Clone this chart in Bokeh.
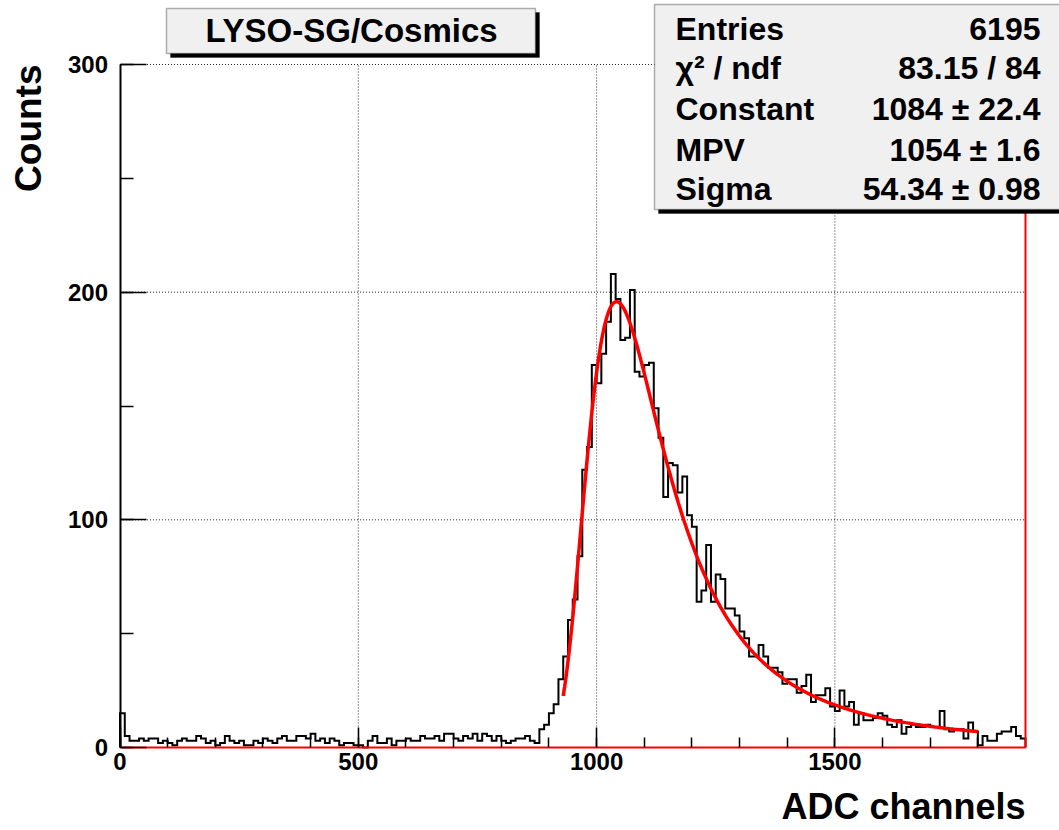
import numpy as np
from bokeh.plotting import figure
from bokeh.models import Range1d, FixedTicker, Label, BoxAnnotation, LinearAxis
from bokeh.embed import file_html
from bokeh.resources import INLINE

# ---------------- data ----------------
bin_width = 10
x_min, x_max = 0, 1900
y_min, y_max = 0, 300

noise_counts = [
    15, 5, 3, 3, 4, 3, 4, 4, 2, 3,
    2, 1, 3, 4, 3, 3, 5, 4, 2, 3,
    1, 2, 5, 3, 2, 3, 1, 1, 3, 2,
    4, 3, 2, 4, 5, 3, 3, 5, 5, 4,
    6, 3, 4, 2, 4, 3, 1, 2, 2, 1,
    1, 0, 3, 5, 2, 2, 4, 1, 3, 3,
    4, 3, 3, 5, 4, 4, 5, 3, 6, 6,
    4, 3, 5, 4, 6, 3, 6, 5, 3, 5,
    3, 2, 3, 4, 4, 5, 3, 2,
]
peak_counts = [
    8, 10, 15, 19, 30, 40, 56, 65, 84, 122,
    132, 168, 160, 173, 187, 208, 197, 179, 180, 201,
    165, 163, 168, 169, 149, 136, 110, 125, 124, 112,
    119,
]
tail_counts = [
    102, 97, 64, 69, 89, 64, 76, 74, 61, 61,
    58, 51, 48, 40, 40, 45, 40, 35, 35, 33,
    28, 30, 30, 24, 27, 32, 20, 23, 23, 26,
    18, 16, 25, 18, 20, 10, 15, 12, 12, 13,
    15, 14, 10, 9, 12, 6, 9, 10, 9, 9,
    10, 9, 9, 16, 8, 7, 8, 8, 4, 11,
    7, 1, 5, 3, 3, 6, 7, 7, 9, 5,
    4,
]
counts = noise_counts + peak_counts + tail_counts

# Landau fit (ROOT parametrisation) and its range
fit_constant = 1084.0
fit_mpv = 1054.0
fit_sigma = 54.34
fit_min, fit_max = 930.0, 1800.0

title_text = "LYSO-SG/Cosmics"
x_title = "ADC channels"
y_title = "Counts"
stat_names = ["Entries", "\u03c7\u00b2 / ndf", "Constant", "MPV", "Sigma"]
stat_values = ["6195", "83.15 / 84", "1084 \u00b1 22.4", "1054 \u00b1 1.6", "54.34 \u00b1 0.98"]

x_major = [0, 500, 1000, 1500]
x_minor = list(range(0, 1900, 100))
y_major = [0, 100, 200, 300]
y_minor = [0, 50, 100, 150, 200, 250, 300]
x_grid = [500, 1000, 1500]
y_grid = [100, 200, 300]

# ---------------- layout (pixels) ----------------
W, H = 1059, 830
frame_l, frame_r, frame_t, frame_b = 119.5, 1025.0, 64.0, 747.0
sx = (frame_r - frame_l) / (x_max - x_min)
sy = (frame_b - frame_t) / (y_max - y_min)
xr0 = x_min - frame_l / sx
xr1 = xr0 + W / sx
yr0 = y_min - (H - frame_b) / sy
yr1 = yr0 + H / sy

# ---------------- derived ----------------
edges = x_min + np.arange(len(counts) + 1) * bin_width
x_step = np.repeat(edges, 2)
y_step = np.concatenate([[0], np.repeat(np.array(counts, dtype=float), 2), [0]])


def landau_pdf(lam):
    t = np.linspace(1e-12, 60.0, 240001)
    f = np.exp(-t * np.log(t) - lam * t) * np.sin(np.pi * t)
    return np.trapezoid(f, t) / np.pi


x_fit = np.linspace(fit_min, fit_max, 300)
y_fit = np.array([fit_constant * landau_pdf((xx - fit_mpv) / fit_sigma) for xx in x_fit])

FONT = "Liberation Sans"

p = figure(width=W, height=H, output_backend="svg", toolbar_location=None,
           x_range=Range1d(xr0, xr1), y_range=Range1d(yr0, yr1),
           x_axis_type=None, y_axis_type=None,
           min_border=0, min_border_left=0, min_border_right=0, min_border_top=0, min_border_bottom=0,
           background_fill_color="white", border_fill_color="white")
p.outline_line_color = None

# grid (dotted, at major ticks)
p.segment(x0=x_grid, y0=[y_min] * len(x_grid), x1=x_grid, y1=[y_max] * len(x_grid),
          line_color="black", line_dash="1 2", line_width=1, line_alpha=0.85)
p.segment(x0=[x_min] * len(y_grid), y0=y_grid, x1=[x_max] * len(y_grid), y1=y_grid,
          line_color="black", line_dash="1 2", line_width=1, line_alpha=0.85)

# histogram and fit
p.line(x_step, y_step, line_color="black", line_width=2, line_join="miter")
p.line(x_fit, y_fit, line_color="#ff0000", line_width=3.5)


def style_axis(ax, tick_in, minor_in):
    ax.major_tick_out = 0
    ax.minor_tick_out = 0
    ax.major_tick_in = tick_in
    ax.minor_tick_in = minor_in
    ax.major_tick_line_color = "black"
    ax.minor_tick_line_color = "black"
    ax.major_tick_line_width = 1.5
    ax.minor_tick_line_width = 1.5
    ax.major_label_text_font = FONT
    ax.major_label_text_font_style = "bold"
    ax.major_label_text_font_size = "24px"
    ax.major_label_text_color = "black"


xaxis = LinearAxis(fixed_location=y_min, bounds=(x_min, x_max),
                   ticker=FixedTicker(ticks=x_major, minor_ticks=x_minor))
style_axis(xaxis, 20, 10)
xaxis.axis_line_color = "#ff0000"
xaxis.axis_line_width = 2
xaxis.major_label_standoff = 5
p.add_layout(xaxis, "below")

yaxis = LinearAxis(fixed_location=x_min, bounds=(y_min, y_max),
                   ticker=FixedTicker(ticks=y_major, minor_ticks=y_minor))
style_axis(yaxis, 26, 13)
yaxis.axis_line_color = "black"
yaxis.axis_line_width = 2
yaxis.major_label_standoff = 12
p.add_layout(yaxis, "left")

raxis = LinearAxis(fixed_location=x_max, bounds=(y_min, y_max), ticker=FixedTicker(ticks=[]),
                   major_label_text_font_size="0px", major_tick_line_color=None, minor_tick_line_color=None)
raxis.axis_line_color = "#ff0000"
raxis.axis_line_width = 2
p.add_layout(raxis, "right")


# boxes in canvas pixels (top/bottom measured from the top edge)
def box(l, r, t, b, **kw):
    return BoxAnnotation(left=l, right=r, top=H - t, bottom=H - b,
                         left_units="screen", right_units="screen", top_units="screen", bottom_units="screen", **kw)


# title box with shadow
p.add_layout(box(170, 539, 12, 57, fill_color="black", fill_alpha=1, line_color="black"))
p.add_layout(box(166, 535, 8, 53, fill_color="#f0f0f0", fill_alpha=1, line_color="black", line_width=1.5))
p.add_layout(Label(x=351, y=H - 30, x_units="screen", y_units="screen", text=title_text,
                   text_font=FONT, text_font_style="bold", text_font_size="33px",
                   text_align="center", text_baseline="middle", text_color="black"))

# stats box with shadow
p.add_layout(box(658, 1070, 9, 213, fill_color="black", fill_alpha=1, line_color="black"))
p.add_layout(box(654, 1066, 4, 209, fill_color="#f0f0f0", fill_alpha=1, line_color="black", line_width=1.5))
row_py = [28, 67, 108, 149, 188]
for name, val, py in zip(stat_names, stat_values, row_py):
    p.add_layout(Label(x=675, y=H - py, x_units="screen", y_units="screen", text=name,
                       text_font=FONT, text_font_style="bold", text_font_size="32px",
                       text_align="left", text_baseline="middle", text_color="black"))
    p.add_layout(Label(x=1040, y=H - py, x_units="screen", y_units="screen", text=val,
                       text_font=FONT, text_font_style="bold", text_font_size="32px",
                       text_align="right", text_baseline="middle", text_color="black"))

# axis titles (ROOT style, aligned to the axis end)
p.add_layout(Label(x=1025, y=H - 806, x_units="screen", y_units="screen", text=x_title,
                   text_font=FONT, text_font_style="bold", text_font_size="36px",
                   text_align="right", text_baseline="middle", text_color="black"))
p.add_layout(Label(x=28, y=H - 64, x_units="screen", y_units="screen", text=y_title, angle=np.pi / 2,
                   text_font=FONT, text_font_style="bold", text_font_size="37px",
                   text_align="right", text_baseline="middle", text_color="black"))

open("out.html", "w").write(file_html(p, INLINE))
